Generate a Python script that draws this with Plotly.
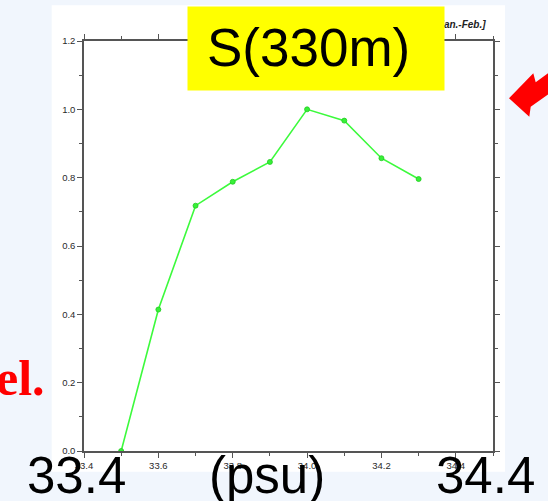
import plotly.graph_objects as go

# ---- data ----
salinity = [33.5, 33.6, 33.7, 33.8, 33.9, 34.0, 34.1, 34.2, 34.3]
values = [0.0, 0.414, 0.718, 0.788, 0.846, 1.0, 0.967, 0.857, 0.796]
x_ticks = [33.4, 33.6, 33.8, 34.0, 34.2, 34.4]
x_ticklabels = ["33.4", "33.6", "33.8", "34.0", "34.2", "34.4"]
y_ticks = [0.0, 0.2, 0.4, 0.6, 0.8, 1.0, 1.2]
y_ticklabels = ["0.0", "0.2", "0.4", "0.6", "0.8", "1.0", "1.2"]

W, H = 548, 501
L, R, T, B = 84, 55, 41, 50
PW, PH = W - L - R, H - T - B


def px(x):
    return (x - L) / PW


def py(y):
    return (H - B - y) / PH


fig = go.Figure()
fig.add_trace(go.Scatter(
    x=salinity, y=values, mode="lines+markers",
    line=dict(color="#3cfa3c", width=1.6),
    marker=dict(size=5, color="#38f038", line=dict(color="#22cc22", width=0.8)),
    showlegend=False,
))

axis_common = dict(
    showline=True, linecolor="#555555", linewidth=1.5, mirror="allticks",
    ticks="outside", ticklen=5, tickwidth=1, tickcolor="#555555",
    showgrid=False, zeroline=False,
    tickfont=dict(family="Liberation Sans", size=9.5, color="#2a2a2a"),
)

fig.update_xaxes(
    range=[33.4, 34.5], tickvals=x_ticks, ticktext=x_ticklabels,
    minor=dict(dtick=0.1, tick0=33.4, ticks="outside", ticklen=3, tickcolor="#555555"),
    **axis_common,
)
fig.update_yaxes(
    range=[0, 1.2], tickvals=y_ticks, ticktext=y_ticklabels,
    minor=dict(dtick=0.1, tick0=0, ticks="outside", ticklen=3, tickcolor="#555555"),
    **axis_common,
)

shapes = [
    # white slide panel behind the chart
    dict(type="rect", xref="paper", yref="paper", layer="below",
         x0=px(51.7), x1=px(505), y0=py(471.7), y1=py(5.2),
         fillcolor="white", line=dict(width=0)),
    # red arrow
    dict(type="path", xref="paper", yref="paper", layer="above",
         path="M {} {} L {} {} L {} {} L {} {} L {} {} L {} {} L {} {} Z".format(
             px(509), py(98.3), px(533.3), py(73.3), px(535.7), py(82.3),
             px(556), py(67.5), px(556), py(89), px(530.7), py(106.7),
             px(529.3), py(116.7)),
         fillcolor="#ff0000", line=dict(width=0)),
]

annotations = [
    dict(text="<b><i>[Jan.-Feb.]</i></b>", xref="paper", yref="paper",
         x=px(488), y=py(25), xanchor="right", yanchor="middle", showarrow=False,
         font=dict(family="Liberation Sans", size=10, color="#222222")),
    # yellow label box
    dict(text=" ", xref="paper", yref="paper", x=px(187.3), y=py(6),
         xanchor="left", yanchor="top", showarrow=False,
         width=256, height=83, bgcolor="#ffff00", borderpad=0,
         font=dict(size=10)),
    dict(text="S(330m)", xref="paper", yref="paper", x=px(308.8), y=py(47.5),
         xanchor="center", yanchor="middle", showarrow=False,
         font=dict(family="Liberation Sans", size=53, color="black")),
    dict(text="<b>el.</b>", xref="paper", yref="paper", x=px(47), y=py(378),
         xanchor="right", yanchor="middle", showarrow=False,
         font=dict(family="Liberation Serif", size=50, color="#ff0000")),
    dict(text="33.4", xref="paper", yref="paper", x=px(76), y=py(475),
         xanchor="center", yanchor="middle", showarrow=False,
         font=dict(family="Liberation Sans", size=51, color="black")),
    dict(text="(psu)", xref="paper", yref="paper", x=px(266.5), y=py(475),
         xanchor="center", yanchor="middle", showarrow=False,
         font=dict(family="Liberation Sans", size=51, color="black")),
    dict(text="34.4", xref="paper", yref="paper", x=px(485), y=py(475),
         xanchor="center", yanchor="middle", showarrow=False,
         font=dict(family="Liberation Sans", size=51, color="black")),
]

fig.update_layout(
    width=W, height=H, autosize=False,
    margin=dict(l=L, r=R, t=T, b=B, pad=0),
    paper_bgcolor="#f1f6fd", plot_bgcolor="white",
    shapes=shapes, annotations=annotations,
)

fig.write_html(
    "out.html",
    config={"displayModeBar": False},
    post_script="document.body.style.margin='0';document.body.style.overflow='hidden';",
)
